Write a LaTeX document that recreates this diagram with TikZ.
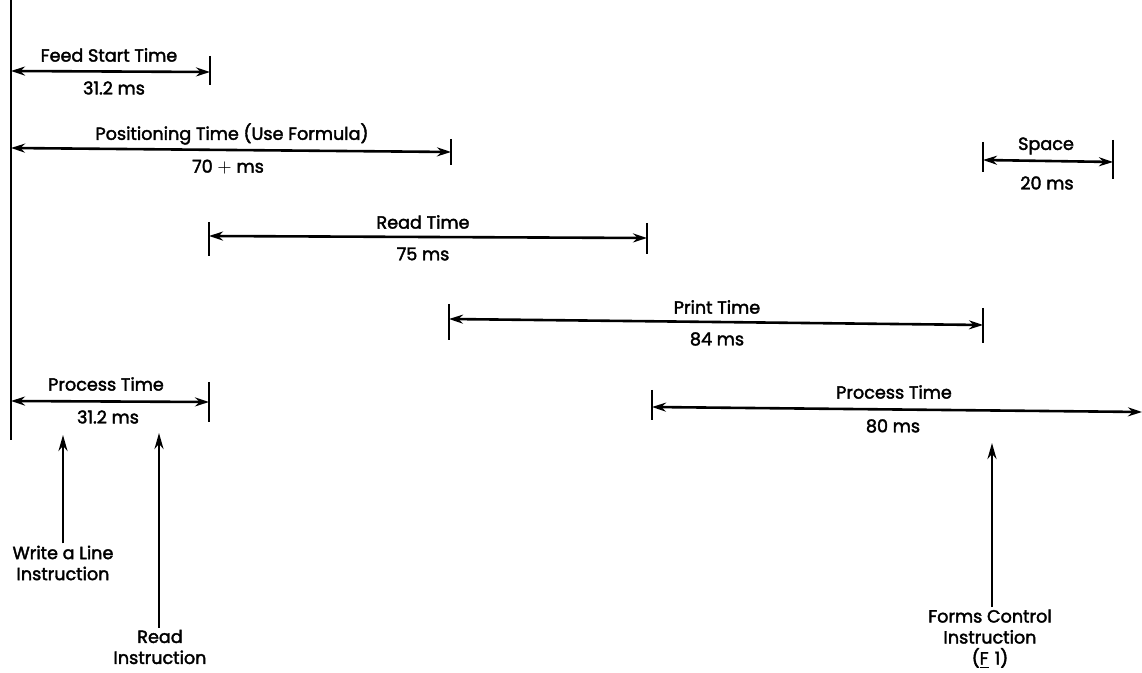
\documentclass[tikz,border=0pt]{standalone}
\usepackage{fontspec}
\setmainfont{Poppins}[FakeBold=2.2]
\usetikzlibrary{arrows.meta}

\tikzset{
  span/.style={line width=1.3pt,{Stealth[length=7pt,width=4.5pt]}-{Stealth[length=7pt,width=4.5pt]}},
  tick/.style={line width=1.3pt},
  pointer/.style={line width=1.3pt,-{Stealth[length=8pt,width=4.5pt]}},
  lbl/.style={font=\fontsize{8.8}{10.5}\selectfont,inner sep=1pt},
  note/.style={lbl,align=center}
}

\begin{document}
\begin{tikzpicture}[x=0.5pt,y=-0.5pt]
\useasboundingbox (0,0) rectangle (1142,673);

% time zero line
\coordinate (zt) at (11,0);
\coordinate (zb) at (11,440);
\draw[tick] (zt) -- (zb);

% feed start
\coordinate (fsA) at (11,71);
\coordinate (fsB) at (210,72);
\draw[tick] (210,56) -- (210,85);
\draw[span] (fsA) -- (fsB);
\node[lbl] (fsT) at (109,55) {Feed Start Time};
\node[lbl] (fsV) at (114,88) {31.2 ms};

% positioning
\coordinate (poA) at (11,148);
\coordinate (poB) at (451,152);
\draw[tick] (451,139) -- (451,165);
\draw[span] (poA) -- (poB);
\node[lbl] (poT) at (232,134) {Positioning Time (Use Formula)};
\node[lbl] (poV) at (228,167) {70 $+$ ms};

% space
\coordinate (spA) at (983,160);
\coordinate (spB) at (1113,162);
\draw[tick] (983,142) -- (983,172);
\draw[tick] (1113,140) -- (1113,179);
\draw[span] (spA) -- (spB);
\node[lbl] (spT) at (1046,146) {Space};
\node[lbl] (spV) at (1047,183) {20 ms};

% read
\coordinate (rdA) at (209,236);
\coordinate (rdB) at (647,238);
\draw[tick] (209,222) -- (209,256);
\draw[tick] (647,223) -- (647,254);
\draw[span] (rdA) -- (rdB);
\node[lbl] (rdT) at (423,222) {Read Time};
\node[lbl] (rdV) at (423,254) {75 ms};

% print
\coordinate (prA) at (449,319);
\coordinate (prB) at (983,325);
\draw[tick] (449,304) -- (449,340);
\draw[tick] (983,308) -- (983,343);
\draw[span] (prA) -- (prB);
\node[lbl] (prT) at (717,307) {Print Time};
\node[lbl] (prV) at (717,339) {84 ms};

% process (first)
\coordinate (p1A) at (11,401);
\coordinate (p1B) at (209,402);
\draw[tick] (209,382) -- (209,422);
\draw[span] (p1A) -- (p1B);
\node[lbl] (p1T) at (106,384) {Process Time};
\node[lbl] (p1V) at (108,417) {31.2 ms};

% process (second)
\coordinate (p2A) at (652,407);
\coordinate (p2B) at (1142,412);
\draw[tick] (652,390) -- (652,420);
\draw[span] (p2A) -- (p2B);
\node[lbl] (p2T) at (894,392) {Process Time};
\node[lbl] (p2V) at (893,426) {80 ms};

% instructions
\node[note] (wl) at (63,563) {Write a Line\\Instruction};
\node[note] (ri) at (160,647) {Read\\Instruction};
\node[note] (fc) at (990,639) {Forms Control\\Instruction\\(\underline{F}\hspace{3pt}1)};
\coordinate (wlH) at (63,435);
\coordinate (riH) at (159,433);
\coordinate (fcH) at (992,443);
\draw[pointer] (wl.north -| wlH) -- (wlH);
\draw[pointer] (ri.north -| riH) -- (riH);
\draw[pointer] (fc.north -| fcH) -- (fcH);

\end{tikzpicture}
\end{document}
